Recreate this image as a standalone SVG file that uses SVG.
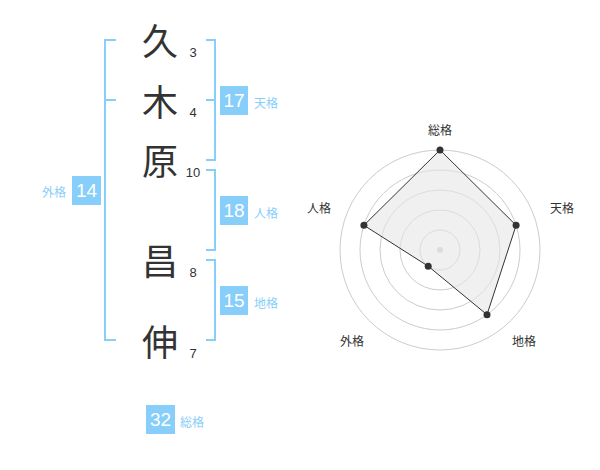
<svg xmlns="http://www.w3.org/2000/svg" width="600" height="470" viewBox="0 0 600 470">
<style>
.ch{font-family:"Noto Sans CJK JP","Noto Sans CJK SC",sans-serif;font-size:36px;fill:#333;text-anchor:middle}
.num{font-family:"Liberation Sans",Arial,sans-serif;font-size:13px;fill:#333;text-anchor:middle}
.box{fill:#87cefa}
.bt{font-family:"Liberation Sans",Arial,sans-serif;font-size:19px;fill:#fff;text-anchor:middle}
.lb{font-family:"Noto Sans CJK JP","Noto Sans CJK SC",sans-serif;font-size:12px;fill:#87cefa}
.br{fill:none;stroke:#87cefa;stroke-width:2}
.ring{fill:none;stroke:#ccc;stroke-width:1}
.rl{font-family:"Noto Sans CJK JP","Noto Sans CJK SC",sans-serif;font-size:12px;fill:#333;text-anchor:middle}
.pt{fill:#333}
</style>
<rect width="600" height="470" fill="#fff"/>
<g id="connectors">
<path class="br" d="M116,40H105V340H116M105,100H116"/>
<path class="br" d="M206,40H215V160H206M206,100H215"/>
<path class="br" d="M206,170H215V250H206"/>
<path class="br" d="M206,260H215V340H206"/>
</g>
<g id="char1"><text class="ch" x="160" y="55">久</text><text class="num" x="193" y="57">3</text></g>
<g id="char2"><text class="ch" x="160" y="116">木</text><text class="num" x="193" y="117">4</text></g>
<g id="char3"><text class="ch" x="160" y="175">原</text><text class="num" x="193" y="177">10</text></g>
<g id="char4"><text class="ch" x="160" y="275">昌</text><text class="num" x="193" y="277">8</text></g>
<g id="char5"><text class="ch" x="160" y="356">伸</text><text class="num" x="193" y="358">7</text></g>
<g id="tenkaku"><rect class="box" x="220" y="86" width="28" height="29"/><text class="bt" x="234" y="107">17</text><text class="lb" x="254" y="108">天格</text></g>
<g id="jinkaku"><rect class="box" x="220" y="196" width="28" height="29"/><text class="bt" x="234" y="217">18</text><text class="lb" x="254" y="218">人格</text></g>
<g id="chikaku"><rect class="box" x="220" y="286" width="28" height="29"/><text class="bt" x="234" y="307">15</text><text class="lb" x="254" y="308">地格</text></g>
<g id="gaikaku"><rect class="box" x="72" y="176" width="29" height="29"/><text class="bt" x="86.5" y="197">14</text><text class="lb" x="66" y="197" text-anchor="end">外格</text></g>
<g id="soukaku"><rect class="box" x="146" y="405" width="29" height="29"/><text class="bt" x="160.5" y="426">32</text><text class="lb" x="180" y="427">総格</text></g>
<g id="radar">
<circle class="ring" cx="440" cy="250" r="100"/>
<circle class="ring" cx="440" cy="250" r="80"/>
<circle class="ring" cx="440" cy="250" r="60"/>
<circle class="ring" cx="440" cy="250" r="40"/>
<circle class="ring" cx="440" cy="250" r="20"/>
<circle cx="440" cy="250" r="3" fill="#ccc"/>
<polygon points="440,150 516.1,225.3 487,314.7 428.2,266.2 363.9,225.3" fill="#e6e6e6" fill-opacity="0.6" stroke="#333" stroke-width="1"/>
<circle class="pt" cx="440" cy="150" r="3.5"/>
<circle class="pt" cx="516.1" cy="225.3" r="3.5"/>
<circle class="pt" cx="487" cy="314.7" r="3.5"/>
<circle class="pt" cx="428.2" cy="266.2" r="3.5"/>
<circle class="pt" cx="363.9" cy="225.3" r="3.5"/>
<text class="rl" x="440" y="135">総格</text>
<text class="rl" x="562" y="213">天格</text>
<text class="rl" x="524" y="346">地格</text>
<text class="rl" x="352" y="346">外格</text>
<text class="rl" x="319" y="213">人格</text>
</g>
</svg>
